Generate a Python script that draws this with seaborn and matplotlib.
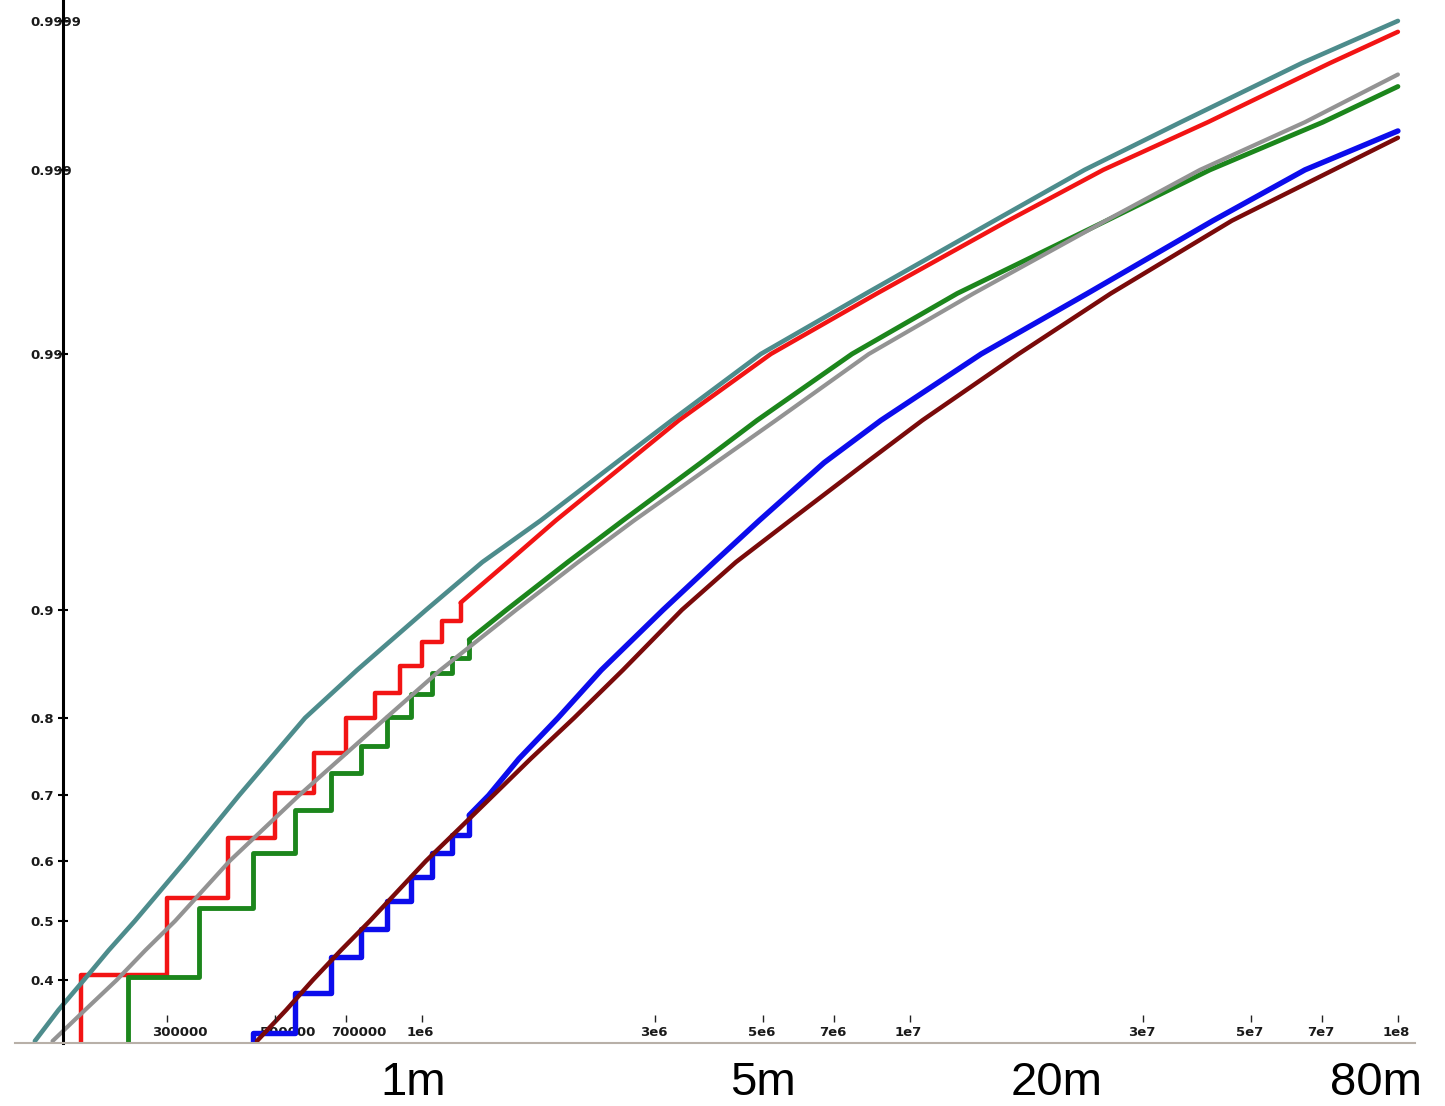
import numpy as np
import matplotlib
matplotlib.use('Agg')
import matplotlib.pyplot as plt
import matplotlib.transforms as mtransforms
from matplotlib.ticker import NullLocator
import seaborn as sns

# y axis is a stretched probability scale: (-ln(1-p)) ** SHAPE
SHAPE = 0.38

y_ticks = [0.4, 0.5, 0.6, 0.7, 0.8, 0.9, 0.99, 0.999, 0.9999]
y_labels = ['0.4', '0.5', '0.6', '0.7', '0.8', '0.9', '0.99', '0.999', '0.9999']
x_ticks = [3e5, 5e5, 7e5, 1e6, 3e6, 5e6, 7e6, 1e7, 3e7, 5e7, 7e7, 1e8]
x_labels = ['300000', '500000', '700000', '1e6', '3e6', '5e6', '7e6', '1e7',
            '3e7', '5e7', '7e7', '1e8']
size_pos = [9.6e5, 5e6, 2e7, 9e7]
size_labels = ['1m', '5m', '20m', '80m']

# smooth curves
teal_x = [1.61e5, 1.80e5, 2.03e5, 2.28e5, 2.58e5, 3.28e5, 4.22e5, 5.76e5, 7.36e5,
          1.02e6, 1.33e6, 1.75e6, 2.50e6, 3.25e6, 4.95e6, 8.13e6, 1.49e7, 2.28e7,
          3.59e7, 6.36e7, 1.0e8]
teal_p = [0.30, 0.35, 0.40, 0.45, 0.50, 0.60, 0.70, 0.80, 0.85,
          0.90, 0.93, 0.95, 0.97, 0.98, 0.99, 0.995, 0.998, 0.999,
          0.9995, 0.9998, 0.99990]

gray_x = [1.75e5, 2.04e5, 2.37e5, 2.71e5, 3.12e5, 4.04e5, 5.60e5, 8.44e5, 1.09e6,
          1.56e6, 2.09e6, 2.72e6, 4.00e6, 5.31e6, 8.24e6, 1.35e7, 2.52e7, 3.93e7,
          6.45e7, 1.0e8]
gray_p = [0.30, 0.35, 0.40, 0.45, 0.50, 0.60, 0.70, 0.80, 0.85,
          0.90, 0.93, 0.95, 0.97, 0.98, 0.99, 0.995, 0.998, 0.999,
          0.9995, 0.99976]

maroon_x = [4.59e5, 5.27e5, 5.98e5, 6.82e5, 7.82e5, 1.02e6, 1.19e6, 1.40e6, 1.67e6,
            2.05e6, 2.58e6, 3.41e6, 4.40e6, 5.68e6, 8.13e6, 1.06e7, 1.67e7, 2.58e7,
            4.57e7, 1.0e8]
maroon_p = [0.30, 0.35, 0.40, 0.45, 0.50, 0.60, 0.65, 0.70, 0.75,
            0.80, 0.85, 0.90, 0.93, 0.95, 0.97, 0.98, 0.99, 0.995,
            0.998, 0.99937]

# stepped curves: staircase part then the dense tail
red_step_x = [2e5, 3e5, 4e5, 5e5, 6e5, 7e5, 8e5, 9e5, 1e6, 1.1e6, 1.2e6]
red_step_p = [0.408, 0.538, 0.636, 0.704, 0.757, 0.800, 0.827, 0.854, 0.875, 0.892, 0.905]
red_tail_x = [1.50e6, 1.88e6, 2.63e6, 3.36e6, 5.19e6, 8.56e6, 1.59e7, 2.49e7, 4.08e7, 7.26e7, 1.0e8]
red_tail_p = [0.93, 0.95, 0.97, 0.98, 0.99, 0.995, 0.998, 0.999, 0.9995, 0.9998, 0.99988]

green_step_x = [2.5e5, 3.5e5, 4.5e5, 5.5e5, 6.5e5, 7.5e5, 8.5e5, 9.5e5, 1.05e6, 1.15e6, 1.25e6]
green_step_p = [0.405, 0.522, 0.613, 0.678, 0.731, 0.767, 0.801, 0.826, 0.847, 0.861, 0.877]
green_tail_x = [1.49e6, 1.99e6, 2.58e6, 3.73e6, 4.86e6, 7.61e6, 1.25e7, 2.53e7, 4.12e7, 7.02e7, 1.0e8]
green_tail_p = [0.90, 0.93, 0.95, 0.97, 0.98, 0.99, 0.995, 0.998, 0.999, 0.9995, 0.99971]

blue_step_x = [4.5e5, 5.5e5, 6.5e5, 7.5e5, 8.5e5, 9.5e5, 1.05e6, 1.15e6, 1.25e6]
blue_step_p = [0.313, 0.378, 0.438, 0.487, 0.534, 0.573, 0.613, 0.641, 0.671]
blue_tail_x = [1.37e6, 1.58e6, 1.90e6, 2.33e6, 3.12e6, 3.97e6, 4.91e6, 6.67e6, 8.72e6,
               1.40e7, 2.31e7, 4.18e7, 6.45e7, 1.0e8]
blue_tail_p = [0.70, 0.75, 0.80, 0.85, 0.90, 0.93, 0.95, 0.97, 0.98,
               0.99, 0.995, 0.998, 0.999, 0.99943]

XMIN, XMAX = 1.466e5, 1.084e8
YMIN, YMAX = 0.297, 0.99993


def fwd(p):
    p = np.clip(np.asarray(p, dtype=float), 1e-9, 1 - 1e-12)
    return (-np.log1p(-p)) ** SHAPE


def inv(v):
    v = np.clip(np.asarray(v, dtype=float), 0, None)
    return -np.expm1(-v ** (1.0 / SHAPE))


def smooth(ax, xs, ps, color, lw):
    sns.lineplot(x=xs, y=ps, ax=ax, color=color, lw=lw, estimator=None, sort=False)


def stepped(ax, sx, sp, tx, tp, color, lw):
    # rise from the floor, staircase, then the tail
    xs = [sx[0]] + sx
    ps = [YMIN * 0.9] + sp
    sns.lineplot(x=xs, y=ps, ax=ax, color=color, lw=lw, estimator=None,
                 sort=False, drawstyle='steps-post')
    sns.lineplot(x=[sx[-1]] + tx, y=[sp[-1]] + tp, ax=ax, color=color, lw=lw,
                 estimator=None, sort=False)


sns.set_theme(style='white')
plt.rcParams['font.family'] = ['DejaVu Sans']

fig = plt.figure(figsize=(14.45, 11.06), dpi=100)
ax = fig.add_axes([15 / 1445, 63 / 1106, 1400 / 1445, 1043 / 1106])
ax.set_xscale('log')
ax.set_yscale('function', functions=(fwd, inv))

stepped(ax, red_step_x, red_step_p, red_tail_x, red_tail_p, '#f21414', 3.2)
stepped(ax, green_step_x, green_step_p, green_tail_x, green_tail_p, '#1c861c', 3.5)
stepped(ax, blue_step_x, blue_step_p, blue_tail_x, blue_tail_p, '#0c0cec', 3.9)
smooth(ax, maroon_x, maroon_p, '#7a0a0a', 3.2)
smooth(ax, gray_x, gray_p, '#939393', 3.0)
smooth(ax, teal_x, teal_p, '#4d8c8c', 3.3)

ax.set_xlim(XMIN, XMAX)
ax.set_ylim(YMIN, YMAX)
ax.set(xlabel='', ylabel='')

ax.set_yticks(y_ticks, labels=y_labels)
ax.set_xticks(x_ticks, labels=x_labels)
ax.xaxis.set_minor_locator(NullLocator())
ax.yaxis.set_minor_locator(NullLocator())

for s in ['top', 'right']:
    ax.spines[s].set_visible(False)
ax.spines['left'].set_position(('data', 1.84e5))
ax.spines['left'].set_linewidth(2.2)
ax.spines['left'].set_color('black')
ax.spines['bottom'].set_linewidth(1.5)
ax.spines['bottom'].set_color('#b8b0a8')

ax.tick_params(axis='y', left=True, direction='inout', length=7, width=1.5,
               color='black', pad=20, labelsize=9.5, labelcolor='#1a1a1a')
ax.tick_params(axis='x', bottom=True, length=0, pad=-12, labelsize=9.5,
               labelcolor='#1a1a1a')
for lbl in ax.get_yticklabels():
    lbl.set_fontweight('bold')
    lbl.set_horizontalalignment('left')
shift = mtransforms.ScaledTranslation(-15 / 100, 0, fig.dpi_scale_trans)
for lbl in ax.get_xticklabels():
    lbl.set_fontweight('bold')
    lbl.set_horizontalalignment('left')
    lbl.set_transform(lbl.get_transform() + shift)

# little tick marks sitting above the inner x labels
ax.vlines(x_ticks, 0.020, 0.027, transform=ax.get_xaxis_transform(),
          color='#222222', lw=1)

for pos, lab in zip(size_pos, size_labels):
    ax.text(pos, -0.0497, lab, transform=ax.get_xaxis_transform(), ha='center',
            va='baseline', fontsize=34, family=['Liberation Sans', 'DejaVu Sans'],
            color='black', clip_on=False)

fig.savefig('out.png', dpi=100)
